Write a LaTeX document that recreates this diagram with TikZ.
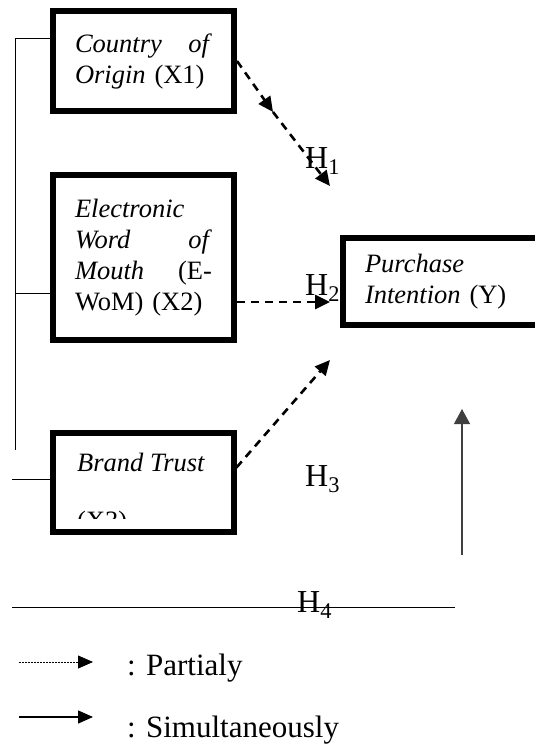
\documentclass[tikz,border=0pt]{standalone}
\usepackage{fontspec}
\setmainfont{Liberation Serif}
\usepackage{tikz}
\usetikzlibrary{arrows.meta,positioning,calc}

\tikzset{
  varbox/.style={draw, line width=6pt, inner xsep=22pt, inner ysep=0pt,
    font=\fontsize{26.5}{31}\selectfont, text width=137pt, align=left},
  boxtext/.style={font=\fontsize{26.5}{31}\selectfont, inner sep=0pt, align=left, anchor=base west},
  dasharrow/.style={line width=2.6pt, dash pattern=on 8pt off 6pt,
    -{Triangle[length=15pt,width=14pt]}},
  bracket/.style={line width=1pt},
  hyp/.style={font=\fontsize{32}{34}\selectfont, inner sep=0pt, anchor=base west},
  legtext/.style={font=\fontsize{31}{33}\selectfont, inner sep=0pt, anchor=base west},
}

\begin{document}
\begin{tikzpicture}[x=1pt, y=-1pt]
\useasboundingbox (0,0) rectangle (535,744);

% variables
\node[varbox, minimum width=181pt, minimum height=100pt] (X1) at (143.5,61)
  {\textit{Country}\hfill\textit{of}\\ \textit{Origin} (X1)};
\node[varbox, minimum width=181pt, minimum height=165pt] (X2) at (143.5,257.5)
  {\textit{Electronic}\\ \textit{Word}\hfill\textit{of}\\ \textit{Mouth}\hfill(E-\\ WoM) (X2)};
\node[varbox, minimum width=180pt, minimum height=99pt] (X3) at (143,482.5) {};
\begin{scope}
  % last line sits low and is cut off by the frame
  \clip (56,436) rectangle (230,518);
  \node[boxtext] (X3txt) at (77,529) {\textit{Brand Trust}\\[27pt](X3)};
\end{scope}
\node[varbox, minimum width=220pt, minimum height=87pt, text width=176pt] (Y) at (453,281.5)
  {\textit{Purchase}\\ \textit{Intention} (Y)};

% partial effects
\coordinate (m1) at (273,112);
\coordinate (e1) at (330,186);
\coordinate (e2) at (330,302);
\coordinate (e3) at (330,360);
\draw[dasharrow] (X1.east) -- (m1);
\draw[dasharrow] (m1) -- (e1);
\draw[dasharrow] (X2.east |- e2) -- (e2);
\draw[dasharrow] ($(X3.east)+(0,-15)$) -- (e3);

\node[hyp] (h1) at (305,168) {H\textsubscript{1}};
\node[hyp] (h2) at (305,295) {H\textsubscript{2}};
\node[hyp] (h3) at (305,486) {H\textsubscript{3}};
\node[hyp] (h4) at (297,612) {H\textsubscript{4}};

% simultaneous effect
\coordinate (brtop) at (15,38);
\coordinate (brend) at (15,450);
\draw[bracket] (X1.west |- brtop) -- (brtop) -- (brend);
\draw[bracket] (X2.west |- 0,293) -- (15,293);
\draw[bracket] (X3.west |- 0,479) -- (12,479);
\draw[bracket] (12,607) -- (455,607);
\coordinate (s0) at (462,555);
\coordinate (s1) at (462,409);
\draw[line width=1.3pt, black!75, -{Triangle[length=15pt,width=16pt]}] (s0) -- (s1);

% legend
\node[legtext] (leg1) at (127,675) {: Partialy};
\node[legtext] (leg2) at (127,737) {: Simultaneously};
\coordinate (l1a) at (19,662);
\coordinate (l1b) at (93,662);
\coordinate (l2a) at (19,717);
\coordinate (l2b) at (93,717);
\draw[line width=0.8pt, dash pattern=on 2pt off 1pt, -{Triangle[length=15pt,width=13pt]}] (l1a) -- (l1b);
\draw[line width=1.5pt, -{Triangle[length=15pt,width=13pt]}] (l2a) -- (l2b);
\end{tikzpicture}
\end{document}
